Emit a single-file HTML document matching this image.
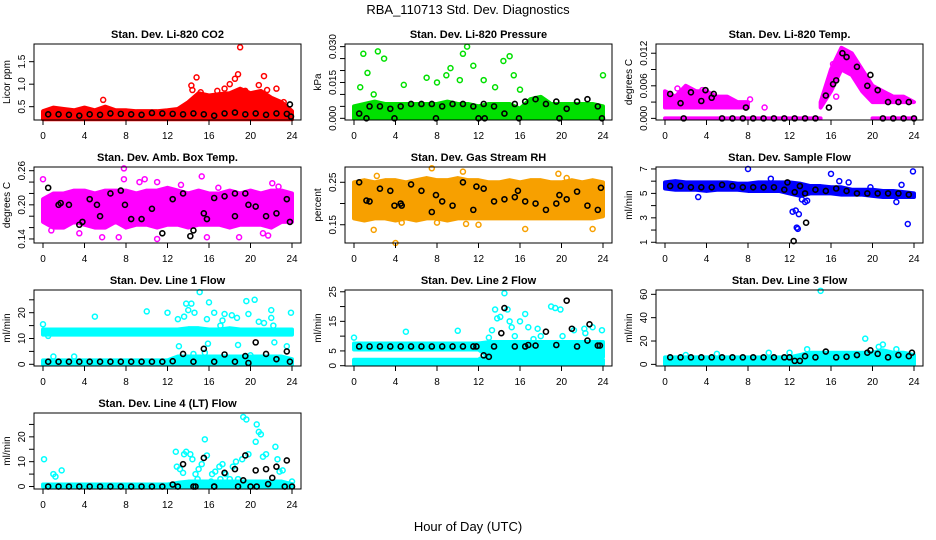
<!DOCTYPE html>
<html><head><meta charset="utf-8"><style>
html,body{margin:0;padding:0;background:#fff}
svg{display:block;font-family:"Liberation Sans",Arial,sans-serif}
</style></head><body>
<svg id="chart" width="936" height="540" viewBox="0 0 936 540" xmlns="http://www.w3.org/2000/svg">
<text x="468" y="14" text-anchor="middle" font-size="13">RBA_110713  Std. Dev. Diagnostics</text>
<text x="468" y="531" text-anchor="middle" font-size="13">Hour of Day (UTC)</text>
</svg>
<script>
// shared hour grids
const binHours = [0,1,2,3,4,5,6,7,8,9,10,11,12,13,14,15,16,17,18,19,20,21,22,23,24];
const blackHours = [0.5,1.5,2.5,3.5,4.5,5.5,6.5,7.5,8.5,9.5,10.5,11.5,12.5,13.5,14.5,15.5,16.5,17.5,18.5,19.5,20.5,21.5,22.5,23.5];
const xTicks = [0,4,8,12,16,20,24];

// Panel 1: CO2
const co2Lo = [0.22,0.22,0.22,0.22,0.22,0.22,0.22,0.22,0.22,0.22,0.22,0.22,0.22,0.22,0.22,0.22,0.22,0.22,0.22,0.22,0.22,0.22,0.22,0.22,0.22];
const co2Hi = [0.4,0.48,0.45,0.42,0.48,0.42,0.5,0.42,0.42,0.4,0.4,0.4,0.42,0.45,0.6,0.8,0.75,0.78,0.8,0.9,0.8,0.85,0.7,0.6,0.4];
const co2Out = [[5.8,0.65],[14.3,0.97],[14.4,0.87],[14.8,1.15],[15.2,0.82],[16.8,0.85],[17.5,0.9],[18,1.0],[18.5,1.12],[18.8,1.22],[19,1.82],[19.5,0.85],[20.3,0.75],[20.8,0.98],[21.3,1.18],[21.6,0.87],[22.5,0.9],[23.2,0.6]];
const co2Black = [0.33,0.33,0.32,0.3,0.33,0.32,0.35,0.34,0.33,0.32,0.36,0.35,0.34,0.33,0.35,0.33,0.3,0.35,0.37,0.33,0.35,0.32,0.35,0.34];
const co2BlackOut = [[23.8,0.55],[23.9,0.28]];

// Panel 2: Pressure
const presLo = [0,0,0,0,0,0,0,0,0,0,0,0,0,0,0,0,0,0,0,0,0,0,0,0,0];
const presHi = [0.005,0.006,0.007,0.006,0.006,0.006,0.006,0.006,0.006,0.007,0.006,0.006,0.005,0.006,0.006,0.006,0.004,0.008,0.009,0.006,0.006,0.006,0.006,0.006,0.005];
const presOut = [[0.6,0.013],[0.9,0.027],[1.3,0.019],[1.9,0.01],[2.3,0.028],[2.9,0.025],[4.8,0.014],[7,0.017],[8,0.015],[8.9,0.018],[9.3,0.021],[10.2,0.016],[10.5,0.027],[10.9,0.03],[11.5,0.022],[12.5,0.016],[13.6,0.013],[14.4,0.024],[15,0.026],[15.4,0.018],[16,0.012],[24,0.018]];
const presBlack = [0.002,0.005,0.005,0.004,0.005,0.006,0.006,0.006,0.005,0.006,0.006,0.005,0.006,0.005,0.002,0.006,0.007,0.008,0.006,0.007,0.004,0.007,0.008,0.005];
const presBlackOut = [[1.2,0],[3.9,0],[7.9,0],[12,0],[12.6,0],[15.9,0],[19.8,0],[23.9,0]];

// Panel 3: Temp
const tempLo = [0.002,0.002,0.002,0.002,0.002,0.002,0.002,0.002,0.002,NaN,NaN,NaN,NaN,NaN,NaN,0.002,0.005,0.009,0.008,0.005,0.003,0.003,0.003,0.003,0.003];
const tempHi = [0.005,0.004,0.006,0.005,0.005,0.004,0.004,0.003,0.003,NaN,NaN,NaN,NaN,NaN,NaN,0.003,0.009,0.013,0.012,0.009,0.006,0.005,0.004,0.004,0.003];
const tempZeroLo = [0,0,0,0,0,0,0,0,0,0,0,0,0,0,0,0,NaN,NaN,NaN,NaN,0,0,0,0,0];
const tempZeroHi = [0,0,0,0,0,0,0,0,0,0,0,0,0,0,0,0,NaN,NaN,NaN,NaN,0,0,0,0,0];
const tempOut = [[1.2,0.0055],[3.6,0.0052],[8.2,0.0035],[9.6,0.002],[16.2,0.01],[16.5,0.004]];
const tempBlack = [0.0045,0.0028,0.0048,0.0032,0.0038,0,0,0,0,0,0,0,0,0,0,0.0042,0.007,0.0113,0.0095,0.006,0.0052,0.003,0.003,0.003];
const tempBlackOut = [[1.8,0],[3.9,0.0052],[4.7,0.0045],[7.8,0.002],[15.8,0.002],[16.2,0.0063],[17.1,0.012],[19.8,0.008],[21,0],[22,0],[23,0],[24,0]];

// Panel 4: Amb box temp
const ambLo = [0.17,0.16,0.16,0.17,0.165,0.16,0.16,0.17,0.16,0.165,0.165,0.16,0.165,0.165,0.16,0.165,0.165,0.165,0.16,0.165,0.165,0.165,0.16,0.17,0.17];
const ambHi = [0.21,0.22,0.22,0.225,0.225,0.22,0.225,0.225,0.225,0.22,0.225,0.225,0.23,0.225,0.22,0.225,0.22,0.22,0.225,0.22,0.225,0.22,0.225,0.225,0.22];
const ambOut = [[0,0.245],[0.8,0.155],[3.5,0.15],[5.7,0.143],[7.3,0.143],[7.8,0.264],[7.8,0.245],[9.3,0.24],[9.8,0.245],[11,0.14],[11,0.24],[12,0.215],[15.3,0.25],[15.8,0.143],[18.9,0.143],[21.2,0.15],[21.7,0.146],[22.1,0.238],[22.7,0.232],[13.3,0.235],[16.9,0.23]];
const ambBlack = [0.23,0.2,0.2,0.165,0.21,0.18,0.22,0.225,0.175,0.175,0.193,0.15,0.21,0.22,0.155,0.185,0.212,0.215,0.18,0.22,0.197,0.18,0.185,0.21];
const ambBlackOut = [[1.7,0.203],[3.8,0.17],[5.2,0.2],[7.9,0.2],[14.2,0.145],[15.8,0.175],[18.5,0.22],[19.8,0.2],[23.8,0.17]];

// Panel 5: RH
const rhLo = [0.165,0.16,0.165,0.165,0.16,0.165,0.16,0.165,0.165,0.16,0.165,0.165,0.165,0.165,0.165,0.165,0.165,0.165,0.165,0.165,0.165,0.165,0.165,0.165,0.17];
const rhHi = [0.25,0.255,0.25,0.255,0.255,0.25,0.255,0.26,0.255,0.255,0.26,0.255,0.255,0.25,0.25,0.255,0.25,0.255,0.255,0.25,0.25,0.255,0.25,0.255,0.25];
const rhOut = [[1.9,0.138],[4,0.107],[7.5,0.283],[10.5,0.275],[16.5,0.14],[19.7,0.27],[23,0.14],[4.6,0.155],[8,0.155],[10.8,0.152],[12,0.15],[2.2,0.265],[20.5,0.26]];
const rhBlack = [0.25,0.205,0.235,0.23,0.2,0.245,0.23,0.18,0.205,0.195,0.25,0.185,0.235,0.205,0.21,0.215,0.205,0.2,0.185,0.2,0.21,0.228,0.195,0.185];
const rhBlackOut = [[1.2,0.207],[3.9,0.195],[4.6,0.195],[7.9,0.22],[11.8,0.24],[15.8,0.23],[19.8,0.22],[23.8,0.237]];

// Panel 6: Sample flow
const sfLo = [5.4,5.3,5.3,5.3,5.2,5.3,5.3,5.3,5.2,5.2,5.2,5.2,5.0,4.8,5.0,5.0,5.0,4.9,4.9,4.9,4.8,4.7,4.7,4.7,4.7];
const sfHi = [5.9,6.0,5.9,5.9,5.9,5.9,5.9,5.8,5.8,5.9,5.9,5.9,5.9,5.8,5.6,5.6,5.5,5.5,5.3,5.3,5.3,5.2,5.2,5.1,5.0];
const sfOut = [[8,7.0],[10.2,6.2],[12.3,3.5],[12.6,3.6],[12.9,3.3],[12.7,2.2],[12.8,2.1],[13.2,4.5],[13.5,4.3],[16,6.6],[16.8,6.0],[17.7,5.9],[19.8,5.5],[22.8,5.7],[22.3,4.3],[23.4,2.5],[23.9,6.8],[3.2,4.7],[13.7,4.4]];
const sfBlack = [5.6,5.6,5.5,5.5,5.5,5.7,5.6,5.5,5.5,5.5,5.5,5.3,5.1,5.0,5.3,5.2,5.4,5.2,5.0,5.0,5.0,5.0,5.0,4.9];
const sfBlackOut = [[12.4,1.1],[13.6,2.6],[13,5.6],[11.8,5.9]];

// Panel 7: Line 1
const l1HiBandLo = [11.5,11.5,11.5,11.5,11.5,11.5,11.5,11.5,11.5,11.5,11.5,11.5,11.5,11.5,11.5,11.5,11.5,11.5,11.5,11.5,11.5,11.5,11.5,11.5,11.5];
const l1HiBandHi = [13.5,13.5,13.5,13.5,13.5,13.5,13.5,13.5,13.5,13.5,13.5,13.5,13.5,13.5,14,14,13.5,13.5,14,13.5,13.5,13.5,13.5,13.5,13.5];
const l1LoBandLo = [0,0,0,0,0,0,0,0,0,0,0,0,0,0,0,0,0,0,0,0,0,0,0,0,0];
const l1LoBandHi = [1.5,1.5,1.5,1.5,1.5,1.5,1.5,1.5,1.5,1.5,1.5,1.5,1.5,3,3,3,3,3,3,3,3,3,3,3,2];
const l1Out = [[0,15.5],[0.5,11],[5,18.5],[10,20.5],[12,20],[13,17.5],[13.6,18.5],[13.8,23.5],[14,21],[14.3,23.5],[14.6,20],[15.1,28],[15.8,17.5],[16,24],[16.5,20],[17.1,15],[17.3,17],[17.5,19.5],[18.2,19],[18.7,18],[19.6,24.5],[19.8,19.5],[20.4,25],[20.8,16.5],[21.3,16],[22,21],[22,18],[22.2,15],[23.9,20],[13.1,7],[14.5,4],[15.6,4.5],[15.9,8],[18.8,7.5],[20,3.5],[22.3,8.5],[23.5,7],[1,3],[3,3]];
const l1Black = [1,1,1,1,1,1,1,1,1,1,1,1,1.2,4,1,6,1,3.8,1,3.2,8.5,4,2,5];
const l1BlackOut = [[23.8,1],[19.8,0.5]];

// Panel 8: Line 2
const l2BandLo = [5.5,5.5,5.5,5.5,5.5,5.5,5.5,5.5,5.5,5.5,5.5,5.5,5.5,3,3,3,3,3,3,3,3,3,3,3,3];
const l2BandHi = [7.5,7.5,7.5,7.5,7.5,7.5,7.5,7.5,7.5,7.5,7.5,7.5,7.5,8,8,8,8,8,8,8,8,8,8,8,8];
const l2LowLo = [0.5,0.5,0.5,0.5,0.5,0.5,0.5,0.5,0.5,0.5,0.5,0.5,0.5,0.5,0.5,0.5,0.5,0.5,0.5,0.5,0.5,0.5,0.5,0.5,0.5];
const l2LowHi = [2,2,2,2,2,2,2,2,2,2,2,2,2,3,3,3,3,3,3,3,3,3,3,3,2];
const l2Out = [[0,9.5],[5,11.5],[10,11.8],[12.2,2],[13,9.5],[13.3,12],[13.6,19],[13.8,16],[14.1,16.5],[14.5,24.5],[14.8,19],[15,15],[15.2,13],[15.5,10],[16,15],[16.8,13],[17.3,9],[17.7,12.5],[18,10],[19,20],[19.4,19.5],[19.9,19],[20.1,10],[21.2,12],[22.2,12.5],[22.3,11],[23,13],[23.9,12],[16.5,17.5]];
const l2Black = [6.5,6.5,6.5,6.5,6.5,6.5,6.5,6.5,6.5,6.5,6.5,6.5,3.5,6.5,19.5,6.5,6.5,6.8,11.5,7,22,6.5,8.5,6.8];
const l2BlackOut = [[13,3],[14.2,11],[16.8,7],[21,12.5],[22.7,14],[23.7,6.8],[11.8,6.5]];

// Panel 9: Line 3
const l3Lo = [0,0,0,0,0,0,0,0,0,0,0,0,0,0,0,0,0,0,0,0,0,0,0,0,0];
const l3Hi = [6,6,6,6,6,6,6,6,6,6,6,6,6,8,10,10,10,10,10,10,10,12,10,10,8];
const l3Out = [[2,8],[5,9],[10,10],[15,63],[19.3,22],[20.6,15],[21,17],[22.3,13],[13.7,13],[12,10]];
const l3Black = [6,6,6,6,6,6,6,6,6,6,6,6,3,7,6,11,6,6.5,8,10,9,6,8,7];
const l3BlackOut = [[23.8,10],[19.8,12],[12,6],[13,3]];

// Panel 10: Line 4
const l4Lo = [0,0,0,0,0,0,0,0,0,0,0,0,0,0,0,0,0,0,0,0,0,0,0,0,0];
const l4Hi = [0.8,0.8,0.8,0.8,0.8,0.8,0.8,0.8,0.8,0.8,0.8,0.8,0.8,1.5,2,2,2,2,2,2,2,2,2,2,1];
const l4Out = [[0.1,11],[1,5],[1.2,4],[1.8,6.5],[12.8,14],[12.9,8],[13.2,7],[13.5,5.5],[13.6,13],[13.8,14],[14.2,13],[14.4,11],[14.7,5],[15,7],[15.3,9],[15.6,19],[15.8,12.5],[16.3,5],[16.6,6],[17,8],[17.3,9],[17.6,5],[18,3],[18.3,8],[18.6,10],[19.2,11],[19.3,28],[19.6,27],[19.8,13],[20.3,1.5],[20.5,18],[20.6,25],[20.8,22],[21,21],[21.2,12],[21.5,13],[22.4,16],[22.6,11],[22.8,6],[23.1,6.5],[24,2],[14.9,3],[16.2,2],[17.1,3],[18.8,3]];
const l4Black = [0,0,0,0,0,0,0,0,0,0,0,0,0.8,9,0,11.5,0,5.5,7,12.5,6.5,7,8,10.5];
const l4BlackOut = [[19.3,2.5],[21.7,1],[22.1,3.5],[23.3,0],[24,0],[13,0],[14.7,0],[16.5,0],[18.8,0],[20,0],[20.6,0]];

const panels = [
 {name:'co2',title:'Stan. Dev. Li-820 CO2',ylab:'Licor ppm',col:0,row:0,color:'#ff0000',ylim:[0.204,1.893],yt:[0.5,1.0,1.5],yl:['0.5','1.0','1.5'],bands:[[co2Lo,co2Hi]],out:co2Out,black:co2Black,bout:co2BlackOut},
 {name:'pressure',title:'Stan. Dev. Li-820 Pressure',ylab:'kPa',col:1,row:0,color:'#00e000',ylim:[-0.0007,0.0311],yt:[0,0.005,0.01,0.015,0.02,0.025,0.03],yl:['0.000','','','0.015','','','0.030'],bands:[[presLo,presHi]],out:presOut,black:presBlack,bout:presBlackOut},
 {name:'temp',title:'Stan. Dev. Li-820 Temp.',ylab:'degrees C',col:2,row:0,color:'#ff00ff',ylim:[-0.0003,0.0137],yt:[0,0.003,0.006,0.009,0.012],yl:['0.000','','0.006','','0.012'],bands:[[tempLo,tempHi],[tempZeroLo,tempZeroHi]],out:tempOut,black:tempBlack,bout:tempBlackOut},
 {name:'amb-box-temp',title:'Stan. Dev. Amb. Box Temp.',ylab:'degrees C',col:0,row:1,color:'#ff00ff',ylim:[0.1329,0.2665],yt:[0.14,0.16,0.18,0.2,0.22,0.24,0.26],yl:['0.14','','','0.20','','','0.26'],bands:[[ambLo,ambHi]],out:ambOut,black:ambBlack,bout:ambBlackOut},
 {name:'gas-stream-rh',title:'Stan. Dev. Gas Stream RH',ylab:'percent',col:1,row:1,color:'#f7a000',ylim:[0.107,0.286],yt:[0.15,0.2,0.25],yl:['0.15','','0.25'],bands:[[rhLo,rhHi]],out:rhOut,black:rhBlack,bout:rhBlackOut},
 {name:'sample-flow',title:'Stan. Dev. Sample Flow',ylab:'ml/min',col:2,row:1,color:'#0000ff',ylim:[0.94,7.16],yt:[1,2,3,4,5,6,7],yl:['1','','3','','5','','7'],bands:[[sfLo,sfHi]],out:sfOut,black:sfBlack,bout:sfBlackOut},
 {name:'line1-flow',title:'Stan. Dev. Line 1 Flow',ylab:'ml/min',col:0,row:2,color:'#00ffff',ylim:[-0.66,28.8],yt:[0,5,10,15,20,25],yl:['0','','10','','20',''],bands:[[l1HiBandLo,l1HiBandHi],[l1LoBandLo,l1LoBandHi]],out:l1Out,black:l1Black,bout:l1BlackOut},
 {name:'line2-flow',title:'Stan. Dev. Line 2 Flow',ylab:'ml/min',col:1,row:2,color:'#00ffff',ylim:[-0.1,25.6],yt:[0,5,10,15,20,25],yl:['0','5','','15','','25'],bands:[[l2BandLo,l2BandHi],[l2LowLo,l2LowHi]],out:l2Out,black:l2Black,bout:l2BlackOut},
 {name:'line3-flow',title:'Stan. Dev. Line 3 Flow',ylab:'ml/min',col:2,row:2,color:'#00ffff',ylim:[-1.4,63.7],yt:[0,20,40,60],yl:['0','20','40','60'],bands:[[l3Lo,l3Hi]],out:l3Out,black:l3Black,bout:l3BlackOut},
 {name:'line4-flow',title:'Stan. Dev. Line 4 (LT) Flow',ylab:'ml/min',col:0,row:3,color:'#00ffff',ylim:[-1.0,29.6],yt:[0,5,10,15,20,25],yl:['0','','10','','20',''],bands:[[l4Lo,l4Hi]],out:l4Out,black:l4Black,bout:l4BlackOut}
];

const NS='http://www.w3.org/2000/svg';
const svg=document.getElementById('chart');
const colLeft=[34,345,656], W=267, rowTop=[44,167,290,413], H=76;
function mk(tag,attrs,parent){const e=document.createElementNS(NS,tag);for(const k in attrs)e.setAttribute(k,attrs[k]);parent.appendChild(e);return e;}

panels.forEach(p=>{
  const L=colLeft[p.col], T=rowTop[p.row], R=L+W, B=T+H;
  const g=mk('g',{},svg);
  
  
  const xs=h=>L+9+(h/24)*(W-18);
  const ys=v=>B-(v-p.ylim[0])/(p.ylim[1]-p.ylim[0])*H;
  const t=mk('text',{x:(L+R)/2,y:T-6,'text-anchor':'middle','font-size':'11','font-weight':'bold'},g);
  t.textContent=p.title;
  
  
  p.bands.forEach((b,bi)=>{
    const lo=b[0],hi=b[1];
    let seg=[];
    const segs=[];
    binHours.forEach((h,i)=>{ if(isNaN(lo[i])){ if(seg.length)segs.push(seg); seg=[]; } else seg.push(i); });
    if(seg.length)segs.push(seg);
    segs.forEach(s=>{
      let pts=s.map(i=>xs(binHours[i])+','+ys(hi[i]));
      pts=pts.concat(s.slice().reverse().map(i=>xs(binHours[i])+','+ys(lo[i])));
      const pg=mk('polygon',{points:pts.join(' '),fill:p.color,stroke:p.color,'stroke-width':4,'stroke-linejoin':'round'},g);
      
      
    });
  });
  p.out.forEach(o=>{
    const c=mk('circle',{cx:xs(o[0]),cy:ys(o[1]),r:2.5,fill:'none',stroke:p.color,'stroke-width':1.5},g);
    
    
  });
  const blk=blackHours.map((h,i)=>[h,p.black[i]]).concat(p.bout);
  blk.forEach(o=>{
    const c=mk('circle',{cx:xs(o[0]),cy:ys(o[1]),r:2.5,fill:'none',stroke:'#000','stroke-width':1.6},g);
    
    
  });
  const box=mk('rect',{x:L,y:T,width:W,height:H,fill:'none',stroke:'#000','stroke-width':1},g);
  
  
  xTicks.forEach(h=>{
    mk('line',{x1:xs(h),x2:xs(h),y1:B,y2:B+5,stroke:'#000'},g);
    const tl=mk('text',{x:xs(h),y:B+19,'text-anchor':'middle','font-size':'10'},g);
    tl.textContent=String(h);
    
    
  });
  p.yt.forEach((v,i)=>{
    const y=ys(v);
    mk('line',{x1:L-5,x2:L,y1:y,y2:y,stroke:'#000'},g);
    if(p.yl[i]){
      const tl=mk('text',{x:0,y:0,'text-anchor':'middle','font-size':'10',transform:`translate(${L-9},${y}) rotate(-90)`},g);
      tl.textContent=p.yl[i];
      
      
    }
  });
  const yl=mk('text',{x:0,y:0,'text-anchor':'middle','font-size':'10',transform:`translate(${L-24},${(T+B)/2}) rotate(-90)`},g);
  yl.textContent=p.ylab;
  
  
});
</script>
</body></html>
